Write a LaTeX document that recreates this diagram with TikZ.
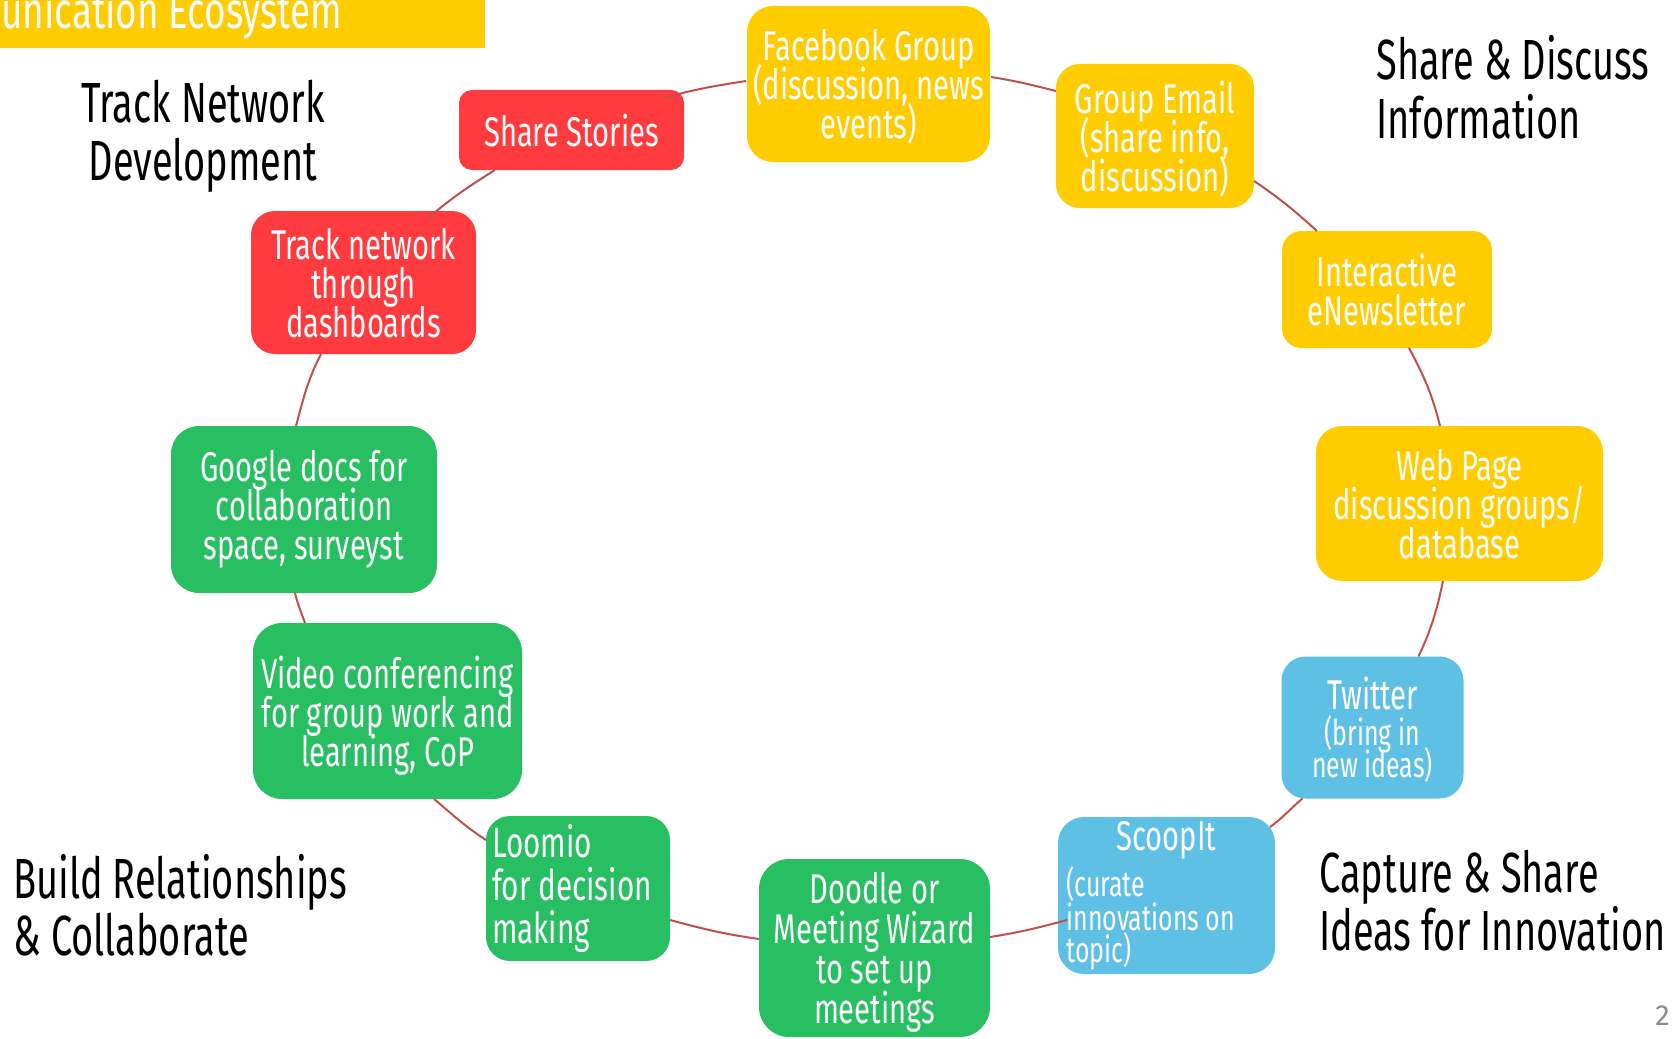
\documentclass[tikz,border=0pt]{standalone}
\usepackage{fontspec}
\setmainfont{Fira Sans}
\newfontfamily\cond{Fira Sans}[FakeStretch=0.70]
\newfontfamily\condh{Fira Sans}[FakeStretch=0.67]
\newfontfamily\condt{Fira Sans}[FakeStretch=0.72]
\usetikzlibrary{calc}
\definecolor{cyel}{HTML}{FFCC00}
\definecolor{cred}{HTML}{FF3B3F}
\definecolor{cgrn}{HTML}{27BF62}
\definecolor{cblu}{HTML}{5EC0E5}
\definecolor{cline}{HTML}{C0504D}
\definecolor{cnum}{HTML}{8C8C8C}
\newcommand{\tightlines}{\lineskiplimit=-100pt\lineskip=0pt\hyphenpenalty=10000}
\begin{document}
\begin{tikzpicture}[x=0.5pt,y=-0.5pt,
  box/.style n args={3}{draw=none, fill=#1, minimum width=#2*0.5pt, minimum height=#3*0.5pt,
    inner sep=0pt, text=white, align=center, text depth=0pt,
    font=\cond\fontsize{20.8}{19.5}\selectfont\tightlines},
  mtxt/.style={font=\cond\fontsize{20.8}{19.5}\selectfont, text=white, inner sep=0pt},
  subtxt/.style={font=\cond\fontsize{17.8}{16}\selectfont, text=white, inner sep=0pt},
  hdr/.style={font=\condh\fontsize{28.3}{29}\selectfont, text=black, inner sep=0pt},
  conn/.style={draw=cline, line width=1pt}]
\useasboundingbox (0,0) rectangle (1680,1038);
\fill[white] (0,0) rectangle (1680,1038);

% title bar
\node[fill=cyel, minimum width=242.5pt, minimum height=24pt, inner sep=0pt, anchor=north west] (bar) at (0,0) {};
\node[font=\condt\fontsize{25.6}{26}\selectfont, text=white, inner sep=0pt, anchor=base west] (ttl) at (1,29) {unication Ecosystem};

% group headings
\node[hdr, anchor=base] (h1a) at (203,122) {Track Network};
\node[hdr, anchor=base] (h1b) at (203,180) {Development};
\node[hdr, anchor=base west] (h2a) at (1376,80) {Share \& Discuss};
\node[hdr, anchor=base west] (h2b) at (1376,139) {Information};
\node[hdr, anchor=base west] (h3a) at (13,898) {Build Relationships};
\node[hdr, anchor=base west] (h3b) at (13,955) {\& Collaborate};
\node[hdr, anchor=base west] (h4a) at (1319,892) {Capture \& Share};
\node[hdr, anchor=base west] (h4b) at (1319,950) {Ideas for Innovation};
\node[font=\fontsize{14.5}{15}\selectfont, text=cnum, inner sep=0pt, anchor=base east] (pg) at (1670,1025) {2};

% boxes
\node[box={cred}{225}{80}, rounded corners=6.5pt] (ss) at (571.5,130) {Share Stories};
\node[box={cyel}{243}{156}, rounded corners=13pt] (fb) at (868.5,84) {Facebook Group\\(discussion, news\\events)};
\node[box={cyel}{198}{144}, rounded corners=12pt] (ge) at (1155,136) {Group Email\\(share info,\\discussion)};
\node[box={cred}{225}{143}, rounded corners=12pt] (tn) at (363.5,282.5) {Track network\\through\\dashboards};
\node[box={cyel}{210}{117}, rounded corners=9.75pt] (ie) at (1387,289.5) {Interactive\\eNewsletter};
\node[box={cyel}{287}{155}, rounded corners=13pt] (wp) at (1459.5,503.5) {Web Page\\discussion groups/\\database};
\node[box={cgrn}{266}{167}, rounded corners=14pt, text depth=] (gd) at (304,509.5) {Google docs for\\collaboration\\space, surveyst};
\node[box={cgrn}{269}{176}, rounded corners=14.5pt] (vc) at (387.5,711) {Video conferencing\\for group work and\\learning, CoP};
\node[box={cgrn}{184}{145}, rounded corners=12pt, align=flush left, text width=86pt, text depth=,
      font=\cond\fontsize{21.2}{21.5}\selectfont\tightlines] (lo) at (578,888.5) {Loomio\\for decision\\making};
\node[box={cgrn}{231}{178}, rounded corners=15pt, font=\cond\fontsize{20.8}{20}\selectfont\tightlines] (dd) at (874.5,948) {Doodle or\\Meeting Wizard\\to set up\\meetings};
\node[box={cblu}{182}{142}, rounded corners=12pt] (tw) at (1372.5,727.5) {};
\node[box={cblu}{217}{157}, rounded corners=13pt] (sc) at (1166.5,895.5) {};

% texts inside Twitter and ScoopIt
\node[mtxt, anchor=base] (twt) at (1372.5,709) {Twitter};
\node[subtxt, anchor=base] (tws1) at (1372.5,745) {(bring in};
\node[subtxt, anchor=base] (tws2) at (1372.5,777) {new ideas)};
\node[mtxt, anchor=base] (sct) at (1166.5,850) {ScoopIt};
\node[subtxt, anchor=base west] (scs1) at (1066,896) {(curate};
\node[subtxt, anchor=base west] (scs2) at (1066,930) {innovations on};
\node[subtxt, anchor=base west] (scs3) at (1066,962) {topic)};

% connectors (arcs of one large ellipse)
\draw[conn] ($(ss)+(92.5,-32)$) to[out=16,in=189] ($(fb)+(-122.5,-3)$);
\draw[conn] ($(fb)+(122.5,-7)$) to[out=-9,in=166] ($(ge)+(-99,-45)$);
\draw[conn] ($(ge)+(99,45)$) to[out=-34,in=138] ($(ie)+(-70,-58.5)$);
\draw[conn] ($(ie)+(22,58.5)$) to[out=-62,in=104] ($(wp)+(-19.5,-77.5)$);
\draw[conn] ($(wp)+(-16.5,77.5)$) to[out=-102,in=65] ($(tw)+(46,-71)$);
\draw[conn] ($(tw)+(-70,71)$) to[out=-140,in=36] ($(sc)+(103.5,-68.5)$);
\draw[conn] ($(sc)+(-99.5,24.5)$) to[out=195,in=9] ($(dd)+(115.5,-11)$);
\draw[conn] ($(dd)+(-115.5,-9)$) to[out=172,in=-15] ($(lo)+(92,31.5)$);
\draw[conn] ($(lo)+(-92,-48.5)$) to[out=147,in=-40] ($(vc)+(46.5,88)$);
\draw[conn] ($(vc)+(-82.5,-88)$) to[out=110,in=-76] ($(gd)+(-9,83.5)$);
\draw[conn] ($(gd)+(-8,-83.5)$) to[out=75,in=-117] ($(tn)+(-42.5,71.5)$);
\draw[conn] ($(tn)+(64.5,-64.5)$) to[out=40,in=-148] ($(ss)+(-76.5,40)$);
\end{tikzpicture}
\end{document}
